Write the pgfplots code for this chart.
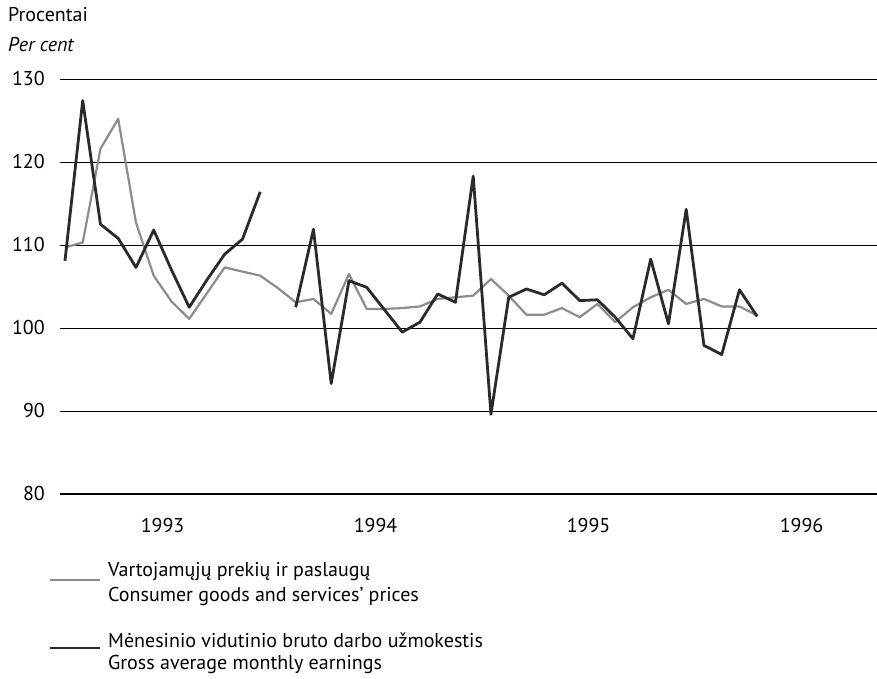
\documentclass[border=0pt]{standalone}
\usepackage{pgfplots}
\pgfplotsset{compat=1.18}
\usepackage{pgfplotstable}
\usepackage{fontspec}
\setmainfont{PT Sans}
\definecolor{cpi}{HTML}{8C8C8C}
\definecolor{wage}{HTML}{2A2A2A}
\pgfplotstableread{
t cpi wage
0 109.7 108.1
1 110.3 127.4
2 121.6 112.5
3 125.2 110.8
4 112.7 107.3
5 106.3 111.8
6 103.2 107.0
7 101.1 102.5
8 104.2 105.8
9 107.3 108.9
10 106.8 110.7
11 106.3 116.4
12 104.8 nan
13 103.1 102.5
14 103.5 111.9
15 101.7 93.3
16 106.5 105.7
17 102.3 104.9
18 102.3 102.2
19 102.4 99.5
20 102.6 100.7
21 103.5 104.1
22 103.7 103.1
23 103.9 118.3
24 105.9 89.6
25 103.9 103.7
26 101.6 104.7
27 101.6 104.0
28 102.4 105.4
29 101.3 103.3
30 102.9 103.4
31 100.7 101.3
32 102.5 98.7
33 103.7 108.3
34 104.6 100.5
35 102.9 114.3
36 103.5 97.9
37 102.6 96.8
38 102.6 104.6
39 101.5 101.4
}\datatable
\begin{document}
\fontsize{20pt}{25pt}\selectfont
\begin{tikzpicture}[x=1pt,y=1pt]
\useasboundingbox (0,0) rectangle (877,679);
\begin{axis}[at={(60pt,185pt)}, anchor=south west, scale only axis,
  width=817pt, height=415pt,
  xmin=-0.28, xmax=45.75, ymin=80, ymax=130,
  ytick={80,90,...,130},
  extra y ticks={80}, extra y tick labels={},
  extra y tick style={grid style={black, line width=2.8pt}},
  xtick={5.5,17.5,29.5,41.5}, xticklabels={1993,1994,1995,1996},
  axis line style={draw=none},
  major tick length=0pt,
  ymajorgrids, grid style={black, line width=0.9pt},
  /pgf/number format/assume math mode=true,
  ticklabel style={font=\fontsize{20pt}{22pt}\selectfont},
  yticklabel style={anchor=east, inner sep=0pt, xshift=-15pt},
  xticklabel style={anchor=north, inner sep=0pt, yshift=-24pt},
  unbounded coords=jump,
  clip=false,
]
\addplot[cpi, line width=2.2pt, line join=round] table[x=t, y=cpi]{\datatable};
\addplot[wage, line width=2.8pt, line join=round] table[x=t, y=wage]{\datatable};
\end{axis}
\node[anchor=west, inner sep=0pt] at (8,679-15) {Procentai};
\node[anchor=west, inner sep=0pt] at (8,679-45) {\itshape Per cent};
\draw[cpi, line width=1.6pt] (50,679-580) -- (100,679-580);
\draw[wage, line width=2pt] (50,679-648) -- (100,679-648);
\node[anchor=west, inner sep=0pt] at (108,679-572) {Vartojamųjų prekių ir paslaugų};
\node[anchor=west, inner sep=0pt] at (108,679-597) {Consumer goods and services' prices};
\node[anchor=west, inner sep=0pt] at (108,679-640) {Mėnesinio vidutinio bruto darbo užmokestis};
\node[anchor=west, inner sep=0pt] at (108,679-665) {Gross average monthly earnings};
\end{tikzpicture}
\end{document}
